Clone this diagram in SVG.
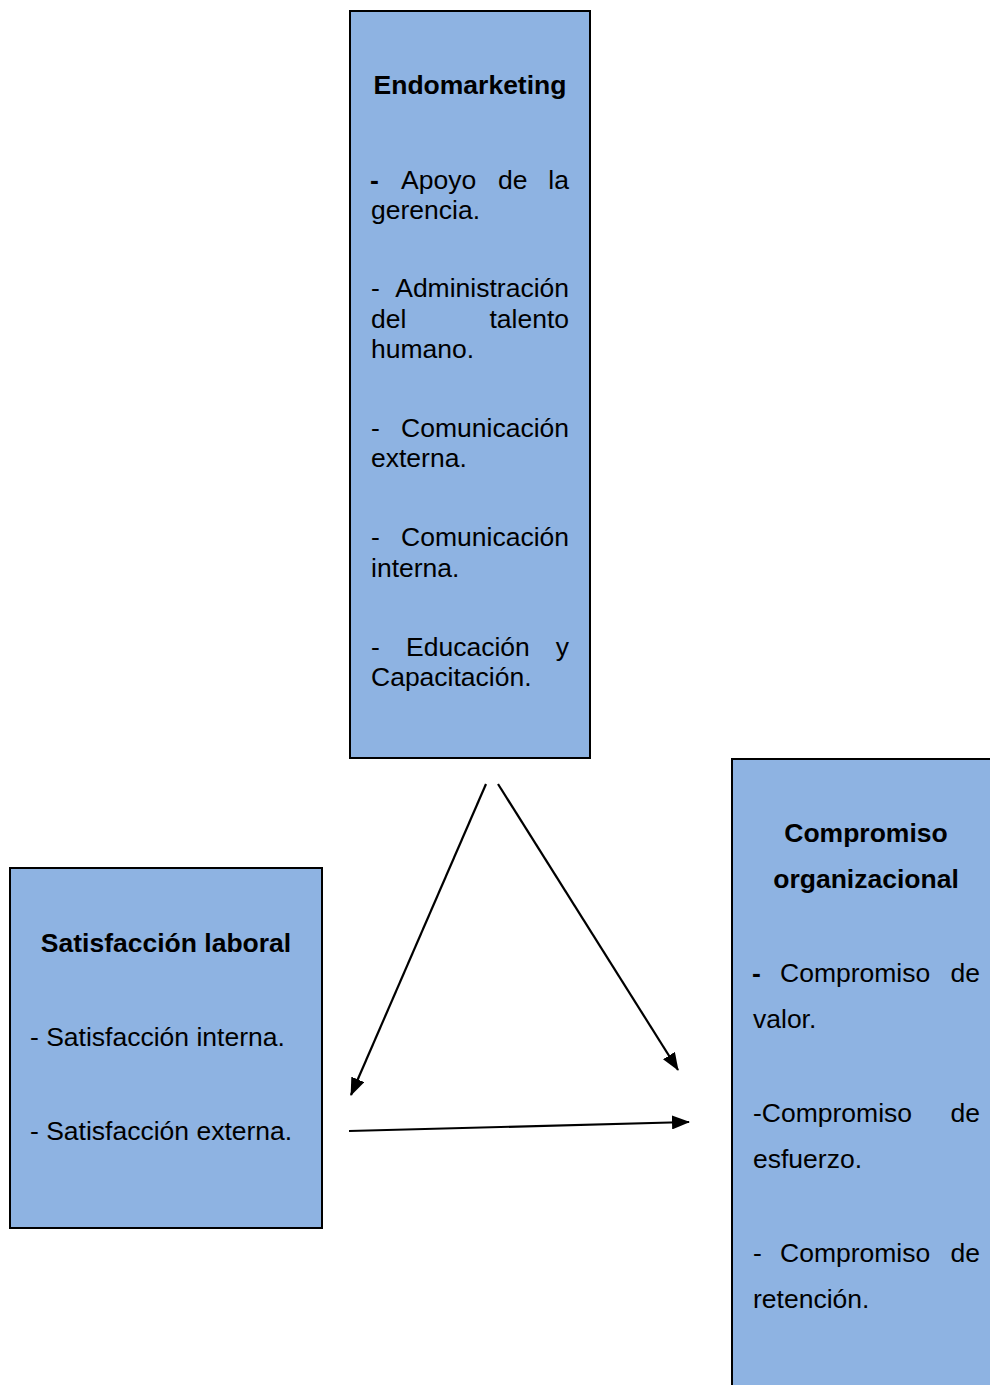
<svg xmlns="http://www.w3.org/2000/svg" width="990" height="1385" viewBox="0 0 990 1385">
  <defs>
    <style>
      .box { fill: #8EB3E2; stroke: #000; stroke-width: 2; }
      text { font-family: "Liberation Sans", Arial, sans-serif; font-size: 26.5px; fill: #000; }
      .b { font-weight: bold; }
      .c { text-anchor: middle; }
      .e { text-anchor: end; }
      .conn { stroke: #000; stroke-width: 2.2; fill: none; marker-end: url(#arrow); }
    </style>
    <marker id="arrow" markerUnits="userSpaceOnUse" markerWidth="18" markerHeight="14" refX="17" refY="7" orient="auto">
      <path d="M0,0 L18,7 L0,14 z" fill="#000"/>
    </marker>
  </defs>
  <rect width="990" height="1385" fill="#fff"/>

  <!-- Endomarketing -->
  <g id="endomarketing">
    <rect class="box" x="350" y="11" width="240" height="747"/>
    <text class="b c" x="470" y="94">Endomarketing</text>
    <text class="b" x="370" y="189">-</text>
    <text x="401" y="189">Apoyo</text>
    <text x="498" y="189">de</text>
    <text class="e" x="569" y="189">la</text>
    <text x="371" y="219">gerencia.</text>
    <text x="371" y="297">-</text>
    <text class="e" x="569" y="297">Administración</text>
    <text x="371" y="328">del</text>
    <text class="e" x="569" y="328">talento</text>
    <text x="371" y="358">humano.</text>
    <text x="371" y="437">-</text>
    <text class="e" x="569" y="437">Comunicación</text>
    <text x="371" y="467">externa.</text>
    <text x="371" y="546">-</text>
    <text class="e" x="569" y="546">Comunicación</text>
    <text x="371" y="577">interna.</text>
    <text x="371" y="656">-</text>
    <text x="406" y="656">Educación</text>
    <text class="e" x="569" y="656">y</text>
    <text x="371" y="686">Capacitación.</text>
  </g>

  <!-- Satisfacción laboral -->
  <g id="satisfaccion">
    <rect class="box" x="10" y="868" width="312" height="360"/>
    <text class="b c" x="166" y="952">Satisfacción laboral</text>
    <text x="30" y="1046">- Satisfacción interna.</text>
    <text x="30" y="1140">- Satisfacción externa.</text>
  </g>

  <!-- Compromiso organizacional -->
  <g id="compromiso">
    <rect class="box" x="732" y="759" width="280" height="650"/>
    <text class="b c" x="866" y="842">Compromiso</text>
    <text class="b c" x="866" y="888">organizacional</text>
    <text class="b" x="752" y="982">-</text>
    <text x="780" y="982">Compromiso</text>
    <text class="e" x="980" y="982">de</text>
    <text x="753" y="1028">valor.</text>
    <text x="753" y="1122">-Compromiso</text>
    <text class="e" x="980" y="1122">de</text>
    <text x="753" y="1168">esfuerzo.</text>
    <text x="753" y="1262">-</text>
    <text x="780" y="1262">Compromiso</text>
    <text class="e" x="980" y="1262">de</text>
    <text x="753" y="1308">retención.</text>
  </g>

  <!-- Connectors -->
  <g id="connectors">
    <line class="conn" x1="486" y1="784" x2="351" y2="1095"/>
    <line class="conn" x1="498" y1="784" x2="678" y2="1070"/>
    <line class="conn" x1="349" y1="1131" x2="689" y2="1122"/>
  </g>
</svg>
